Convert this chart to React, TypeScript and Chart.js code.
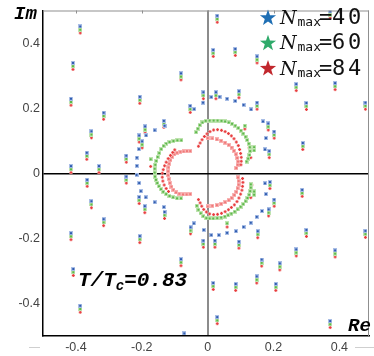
import React, { useEffect, useRef } from "react";
import { Chart, registerables } from "chart.js";

Chart.register(...registerables);

type P = [number, number];

const xTickValues = [-0.4, -0.2, 0, 0.2, 0.4];
const xTickLabels = ["-0.4", "-0.2", "0", "0.2", "0.4"];
const yTickValues = [-0.4, -0.2, 0, 0.2, 0.4];
const yTickLabels = ["-0.4", "-0.2", "0", "0.2", "0.4"];

const legendValues = ["40", "60", "84"];
const legendColors = ["#1f6fb4", "#2eaa6a", "#c1272d"];

// scattered zeros: each seen for all three N_max, stacked
const outerX = [-0.387, -0.409, -0.415, -0.353, -0.367, -0.415, -0.330, -0.316, -0.247, -0.206, -0.081, -0.208, -0.190, -0.133, -0.053, 0.029, 0.372, 0.017, 0.084, 0.150, 0.269, 0.387, 0.300, 0.479, 0.150, 0.095, 0.025, -0.013, 0.184, 0.202, 0.187, 0.289, 0.189, 0.202, 0.185, 0.287, 0.300, 0.479, 0.269, 0.387, 0.152, 0.164, 0.219, 0.149, 0.207, 0.085, 0.017, 0.029, 0.372, 0.095, 0.022, -0.013, -0.052, -0.415, -0.408, -0.387, -0.353, -0.316, -0.366, -0.247, -0.206, -0.208, -0.191, -0.131, -0.081, -0.199];
const outerY40 = [0.451, 0.339, 0.229, 0.129, 0.063, 0.022, 0.022, 0.186, 0.054, 0.235, 0.307, 0.116, 0.144, 0.161, 0.207, 0.484, 0.497, 0.379, 0.382, 0.359, 0.274, 0.277, 0.216, 0.217, 0.217, 0.252, 0.249, 0.249, 0.153, 0.128, 0.068, 0.093, -0.027, -0.081, -0.111, -0.051, -0.174, -0.177, -0.234, -0.237, -0.178, -0.265, -0.277, -0.317, -0.340, -0.340, -0.337, -0.442, -0.454, -0.210, -0.207, -0.207, -0.166, -0.184, -0.294, -0.407, -0.086, -0.141, -0.020, -0.010, -0.193, -0.073, -0.101, -0.119, -0.264, 0.098];
const outerY60 = [0.441, 0.329, 0.219, 0.119, 0.053, 0.012, 0.012, 0.176, 0.044, 0.225, 0.297, 0.106, 0.134, 0.151, 0.197, 0.474, 0.487, 0.369, 0.372, 0.349, 0.264, 0.267, 0.206, 0.207, 0.207, 0.242, 0.239, 0.239, 0.143, 0.118, 0.058, 0.083, -0.037, -0.091, -0.121, -0.061, -0.184, -0.187, -0.244, -0.247, -0.188, -0.275, -0.287, -0.327, -0.350, -0.350, -0.347, -0.452, -0.464, -0.220, -0.217, -0.217, -0.176, -0.194, -0.304, -0.417, -0.096, -0.151, -0.030, -0.020, -0.203, -0.083, -0.111, -0.129, -0.274, 0.088];
const outerY84 = [0.431, 0.319, 0.209, 0.109, 0.043, 0.002, 0.002, 0.166, 0.034, 0.215, 0.287, 0.096, 0.124, 0.141, 0.187, 0.464, 0.477, 0.359, 0.362, 0.339, 0.254, 0.257, 0.196, 0.197, 0.197, 0.232, 0.229, 0.229, 0.133, 0.108, 0.048, 0.073, -0.047, -0.101, -0.131, -0.071, -0.194, -0.197, -0.254, -0.257, -0.198, -0.285, -0.297, -0.337, -0.360, -0.360, -0.357, -0.462, -0.474, -0.230, -0.227, -0.227, -0.186, -0.204, -0.314, -0.427, -0.106, -0.161, -0.040, -0.030, -0.213, -0.093, -0.121, -0.139, -0.284, 0.078];

// N_max = 40 ring
const ring40: P[] = [[-0.161, 0.132], [-0.131, 0.146], [-0.187, 0.116], [-0.209, 0.074], [-0.215, 0.048], [-0.215, 0.023], [-0.216, -0.005], [-0.208, -0.030], [-0.203, -0.055], [-0.188, -0.074], [-0.161, -0.089], [-0.133, -0.104], [-0.041, 0.197], [-0.014, 0.217], [0.011, 0.234], [0.036, 0.235], [0.059, 0.229], [0.084, 0.222], [0.109, 0.210], [0.132, 0.196], [0.168, 0.159], [0.177, 0.108], [0.174, 0.073], [0.174, -0.031], [0.177, -0.064], [0.165, -0.116], [0.149, -0.134], [0.131, -0.152], [0.109, -0.165], [0.086, -0.178], [0.059, -0.183], [0.034, -0.190], [0.011, -0.190], [-0.012, -0.174], [-0.042, -0.154], [-0.071, -0.492]];

// N_max = 60 arcs
const arcLeft60: P[] = [[-0.080, 0.101], [-0.092, 0.101], [-0.104, 0.099], [-0.116, 0.096], [-0.126, 0.091], [-0.134, 0.084], [-0.141, 0.074], [-0.147, 0.062], [-0.152, 0.050], [-0.156, 0.038], [-0.159, 0.026], [-0.161, 0.014], [-0.161, 0.002], [-0.160, -0.010], [-0.157, -0.020], [-0.153, -0.030], [-0.148, -0.040], [-0.142, -0.049], [-0.135, -0.057], [-0.126, -0.064], [-0.116, -0.070], [-0.105, -0.074], [-0.093, -0.077], [-0.081, -0.077]];
const arcUpper60: P[] = [[-0.035, 0.126], [-0.030, 0.137], [-0.024, 0.148], [-0.016, 0.156], [-0.006, 0.161], [0.006, 0.162], [0.018, 0.162], [0.030, 0.162], [0.042, 0.161], [0.053, 0.159], [0.064, 0.156], [0.074, 0.152], [0.084, 0.146], [0.093, 0.139], [0.101, 0.131], [0.108, 0.122], [0.115, 0.112], [0.120, 0.102], [0.125, 0.091], [0.128, 0.080], [0.129, 0.068], [0.127, 0.056], [0.123, 0.045], [0.118, 0.036]];
const arcLower60: P[] = [[-0.033, -0.100], [-0.028, -0.112], [-0.021, -0.123], [-0.013, -0.132], [-0.004, -0.138], [0.006, -0.139], [0.017, -0.139], [0.029, -0.138], [0.041, -0.136], [0.052, -0.133], [0.062, -0.129], [0.072, -0.124], [0.082, -0.118], [0.091, -0.111], [0.100, -0.103], [0.108, -0.095], [0.115, -0.086], [0.121, -0.076], [0.126, -0.066], [0.129, -0.055], [0.131, -0.044], [0.131, -0.034]];
const extra60: P[] = [[0.113, 0.146], [0.141, 0.080], [0.141, 0.070], [0.059, -0.154], [0.141, -0.056], [0.141, -0.066], [-0.173, 0.043]];

// N_max = 84 arcs (outer ones drawn as crosses, inner ones as light squares)
const arcLeftOuter84: P[] = [[-0.100, 0.072], [-0.106, 0.064], [-0.113, 0.055], [-0.120, 0.045], [-0.126, 0.034], [-0.131, 0.023], [-0.135, 0.011], [-0.138, 0.000], [-0.138, -0.012], [-0.136, -0.024], [-0.132, -0.036], [-0.126, -0.047], [-0.119, -0.056]];
const arcLeftInner84: P[] = [[-0.053, 0.068], [-0.063, 0.068], [-0.073, 0.067], [-0.083, 0.066], [-0.093, 0.063], [-0.101, 0.058], [-0.108, 0.050], [-0.113, 0.040], [-0.117, 0.029], [-0.119, 0.018], [-0.120, 0.006], [-0.120, -0.006], [-0.118, -0.018], [-0.115, -0.030], [-0.110, -0.041], [-0.104, -0.051], [-0.096, -0.059], [-0.086, -0.063], [-0.075, -0.065], [-0.064, -0.065], [-0.053, -0.064]];
const arcUpperOuter84: P[] = [[-0.028, 0.083], [-0.023, 0.093], [-0.017, 0.103], [-0.010, 0.113], [-0.002, 0.121], [0.007, 0.128], [0.018, 0.133], [0.030, 0.134], [0.042, 0.132], [0.053, 0.128], [0.063, 0.122], [0.072, 0.115], [0.080, 0.106], [0.087, 0.096], [0.093, 0.085], [0.097, 0.073], [0.100, 0.061], [0.102, 0.049], [0.102, 0.037], [0.101, 0.026]];
const arcUpperInner84: P[] = [[0.000, 0.108], [0.014, 0.107], [0.028, 0.104], [0.041, 0.100], [0.053, 0.094], [0.064, 0.087], [0.073, 0.079], [0.080, 0.069], [0.086, 0.058], [0.090, 0.047], [0.092, 0.036], [0.091, 0.026], [0.087, 0.016]];
const arcLowerOuter84: P[] = [[-0.028, -0.081], [-0.023, -0.091], [-0.018, -0.101], [-0.012, -0.111], [-0.004, -0.119], [0.006, -0.125], [0.018, -0.127], [0.030, -0.126], [0.042, -0.123], [0.053, -0.118], [0.063, -0.112], [0.072, -0.105], [0.081, -0.097], [0.089, -0.087], [0.095, -0.076], [0.100, -0.064], [0.104, -0.052], [0.106, -0.040], [0.107, -0.028], [0.106, -0.016]];
const arcLowerInner84: P[] = [[0.000, -0.102], [0.014, -0.100], [0.028, -0.098], [0.041, -0.094], [0.053, -0.089], [0.064, -0.083], [0.073, -0.076], [0.081, -0.067], [0.087, -0.057], [0.091, -0.046], [0.094, -0.035], [0.094, -0.024], [0.092, -0.013]];
const extra84: P[] = [[0.113, 0.136], [0.126, 0.078], [0.131, 0.048], [0.059, -0.165], [0.134, -0.036], [0.131, -0.075], [-0.173, 0.021]];

const toPts = (arr: P[]) => arr.map(([x, y]) => ({ x, y }));
const outer = (ys: number[]) => outerX.map((x, i) => ({ x, y: ys[i] }));

function drawStar(ctx: CanvasRenderingContext2D, cx: number, cy: number, R: number, r: number, color: string) {
  ctx.beginPath();
  for (let i = 0; i < 10; i++) {
    const a = -Math.PI / 2 + (i * Math.PI) / 5;
    const rad = i % 2 === 0 ? R : r;
    const px = cx + rad * Math.cos(a);
    const py = cy + rad * Math.sin(a);
    if (i === 0) ctx.moveTo(px, py);
    else ctx.lineTo(px, py);
  }
  ctx.closePath();
  ctx.fillStyle = color;
  ctx.fill();
}

const decor = {
  id: "decor",
  afterDatasetsDraw(chart: any) {
    const { ctx, chartArea: a, scales } = chart;
    ctx.save();
    ctx.strokeStyle = "#8f8f8f";
    ctx.lineWidth = 1;
    ctx.beginPath();
    ctx.moveTo(a.left, a.top + 0.5);
    ctx.lineTo(a.right, a.top + 0.5);
    ctx.moveTo(a.right - 0.5, a.top);
    ctx.lineTo(a.right - 0.5, a.bottom);
    for (const v of xTickValues) {
      const px = Math.round(scales.x.getPixelForValue(v)) + 0.5;
      ctx.moveTo(px, a.top);
      ctx.lineTo(px, a.top + 3);
    }
    ctx.stroke();
    ctx.strokeStyle = "#cfcfcf";
    ctx.beginPath();
    ctx.moveTo(29, 347.5);
    ctx.lineTo(40, 347.5);
    ctx.moveTo(355, 347.5);
    ctx.lineTo(374, 347.5);
    ctx.stroke();
    ctx.restore();
  },
  afterDraw(chart: any) {
    const { ctx } = chart;
    ctx.save();
    ctx.fillStyle = "#000";
    ctx.textBaseline = "alphabetic";
    ctx.textAlign = "left";
    ctx.font = 'bold italic 19px "Liberation Mono"';
    ctx.fillText("Im", 14, 19);
    ctx.fillText("Re", 348, 331);

    let x = 78;
    const by = 286;
    ctx.font = 'bold italic 21px "Liberation Mono"';
    ctx.fillText("T/T", x, by);
    x += ctx.measureText("T/T").width;
    ctx.font = 'bold italic 14px "Liberation Mono"';
    ctx.fillText("c", x, by + 4);
    x += ctx.measureText("c").width;
    ctx.font = 'bold italic 21px "Liberation Mono"';
    ctx.fillText("=0.83", x, by);

    legendValues.forEach((val, i) => {
      const base = 24 + i * 25.3;
      drawStar(ctx, 268, base - 6, 8.5, 3.4, legendColors[i]);
      ctx.fillStyle = "#111";
      ctx.font = 'italic 19px "DejaVu Serif"';
      ctx.fillText("N", 280, base);
      ctx.font = '13px "DejaVu Sans Mono"';
      ctx.fillText("max", 297.5, base + 2);
      ctx.font = '22px "DejaVu Sans Mono"';
      ctx.fillText("=", 319, base);
      ctx.fillText(val[0], 332, base);
      ctx.fillText(val[1], 348, base);
    });
    ctx.restore();
  },
};

export default function App() {
  const ref = useRef<HTMLCanvasElement>(null);
  useEffect(() => {
    const canvas = ref.current!;
    const mk = (size: number, draw: (g: CanvasRenderingContext2D) => void) => {
      const c = document.createElement("canvas");
      c.width = size;
      c.height = size;
      draw(c.getContext("2d")!);
      return c;
    };
    const blueMarker = mk(4, (g) => {
      g.fillStyle = "#a9bee6";
      g.fillRect(0, 0, 4, 4);
      g.fillStyle = "#2f5caf";
      g.fillRect(1, 1, 2, 2);
    });
    const greenMarker = mk(4, (g) => {
      g.fillStyle = "#bfe3b0";
      g.fillRect(0, 0, 4, 4);
      g.fillStyle = "#5db94b";
      g.fillRect(1, 1, 2, 2);
    });
    const redCross = mk(5, (g) => {
      g.fillStyle = "#f7c0c0";
      g.fillRect(1, 1, 3, 3);
      g.fillStyle = "#e8393a";
      g.fillRect(2, 1, 1, 3);
      g.fillRect(1, 2, 3, 1);
    });
    const redSquare = mk(4, (g) => {
      g.fillStyle = "#f8b4b4";
      g.fillRect(0, 0, 4, 4);
      g.fillStyle = "#f07878";
      g.fillRect(1, 1, 2, 2);
    });

    const tickFont = { family: '"Liberation Sans", Arial, sans-serif', size: 12.5 };
    const labelFor = (vals: number[], labels: string[]) => (v: any) => {
      const i = vals.findIndex((t) => Math.abs(t - Number(v)) < 1e-9);
      return i >= 0 ? labels[i] : "";
    };

    const crossGroups = [outer(outerY84), toPts(arcLeftOuter84), toPts(arcUpperOuter84), toPts(arcLowerOuter84), toPts(extra84)];
    const squareGroups = [toPts(arcLeftInner84), toPts(arcUpperInner84), toPts(arcLowerInner84)];
    const red84Data: any[] = [];
    const red84Styles: any[] = [];
    squareGroups.forEach((g) => g.forEach((p) => { red84Data.push(p); red84Styles.push(redSquare); }));
    crossGroups.forEach((g) => g.forEach((p) => { red84Data.push(p); red84Styles.push(redCross); }));

    const chart = new Chart(canvas, {
      type: "scatter",
      data: {
        datasets: [
          {
            label: "N_max=40",
            data: [...outer(outerY40), ...toPts(ring40)],
            pointStyle: blueMarker as any,
            pointRadius: 2,
          },
          {
            label: "N_max=60",
            data: [...outer(outerY60), ...toPts(arcLeft60), ...toPts(arcUpper60), ...toPts(arcLower60), ...toPts(extra60)],
            pointStyle: greenMarker as any,
            pointRadius: 2,
          },
          {
            label: "N_max=84",
            data: red84Data,
            pointStyle: ((c: any) => red84Styles[c.dataIndex] || redCross) as any,
            pointRadius: 2,
          },
        ],
      },
      options: {
        animation: false,
        responsive: false,
        layout: { padding: { top: 5, right: 1, left: 0, bottom: 0 } },
        plugins: { legend: { display: false }, tooltip: { enabled: false } },
        scales: {
          x: {
            type: "linear",
            min: -0.5,
            max: 0.49,
            afterFit: (s: any) => {
              s.height = 20;
            },
            afterBuildTicks: (s: any) => {
              s.ticks = xTickValues.map((v) => ({ value: v }));
            },
            ticks: {
              callback: labelFor(xTickValues, xTickLabels),
              font: tickFont,
              color: "#444",
              padding: 4,
              maxRotation: 0,
              autoSkip: false,
            },
            grid: {
              drawTicks: false,
              color: (c: any) => (c.tick && Math.abs(c.tick.value) < 1e-9 ? "#8c8c8c" : "rgba(0,0,0,0)"),
              lineWidth: 2,
            },
            border: { color: "#000", width: 1.5 },
          },
          y: {
            type: "linear",
            min: -0.5,
            max: 0.5,
            afterFit: (s: any) => {
              s.width = 43;
            },
            afterBuildTicks: (s: any) => {
              s.ticks = yTickValues.map((v) => ({ value: v }));
            },
            ticks: {
              callback: labelFor(yTickValues, yTickLabels),
              font: tickFont,
              color: "#444",
              padding: 3,
              autoSkip: false,
            },
            grid: {
              drawTicks: false,
              color: (c: any) => (c.tick && Math.abs(c.tick.value) < 1e-9 ? "#000" : "rgba(0,0,0,0)"),
              lineWidth: 1.5,
            },
            border: { color: "#000", width: 1.5 },
          },
        },
      },
      plugins: [decor],
    });
    return () => chart.destroy();
  }, []);

  return (
    <div style={{ position: "fixed", left: 0, top: 0, width: 374, height: 356, background: "#fff" }}>
      <canvas ref={ref} width={374} height={356} style={{ display: "block", width: 374, height: 356 }} />
    </div>
  );
}
